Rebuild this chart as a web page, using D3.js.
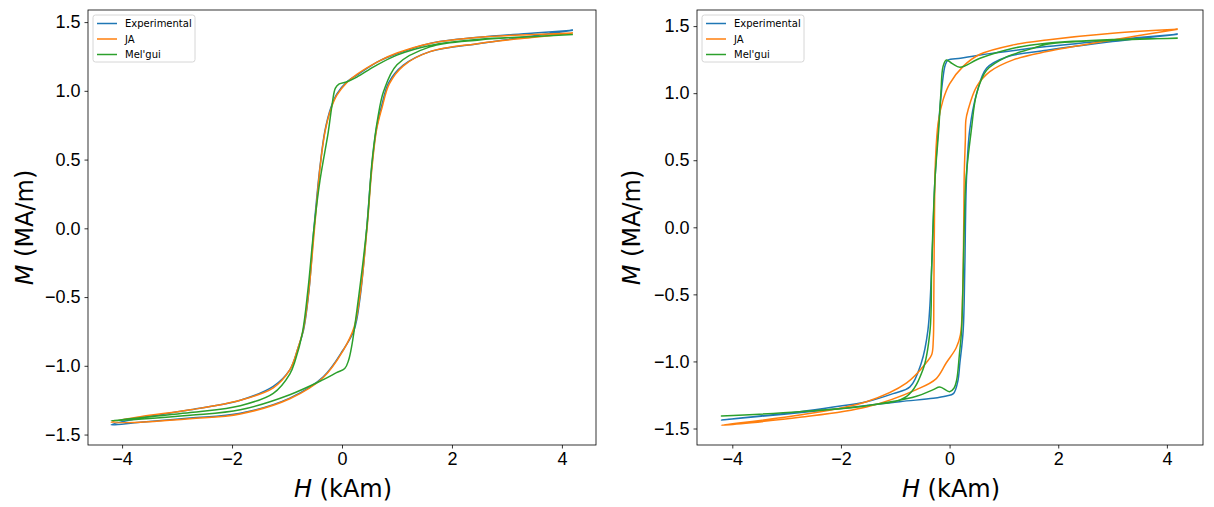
<!DOCTYPE html>
<html>
<head>
<meta charset="utf-8">
<script src="https://cdn.jsdelivr.net/npm/d3@7"></script>
<style>
  body { margin: 0; background: #fff; }
  svg { font-family: "DejaVu Sans", sans-serif; }
  .tick text { font-size: 18px; fill: #000; }
  .domain { display: none; }
</style>
</head>
<body>
<svg width="1214" height="507"></svg>
<script>
// series names + colours
const seriesNames = ["Experimental", "JA", "Mel'gui"];
const seriesColors = ["#1f77b4", "#ff7f0e", "#2ca02c"];

const xTicks = [-4, -2, 0, 2, 4];
const yTicks = [-1.5, -1.0, -0.5, 0.0, 0.5, 1.0, 1.5];

// left panel: each loop = descending branch (4.2 -> -4.2) then ascending branch
const leftExpH = [4.2, 3.5, 2.5, 1.6, 1.0, 0.69, 0.27, 0.09, -0.09, -0.2, -0.31, -0.4, -0.51, -0.6, -0.7, -0.8, -0.95, -1.25, -1.85, -2.76, -3.67, -4.2,
                  -3.67, -2.76, -1.85, -0.95, -0.34, 0.02, 0.22, 0.33, 0.45, 0.53, 0.62, 0.72, 0.85, 1.11, 1.6, 2.5, 3.5, 4.2];
const leftExpM = [1.44, 1.42, 1.39, 1.345, 1.27, 1.22, 1.115, 1.066, 0.98, 0.88, 0.71, 0.45, 0.0, -0.45, -0.74, -0.87, -1.03, -1.15, -1.25, -1.32, -1.38, -1.43,
                  -1.41, -1.38, -1.345, -1.235, -1.08, -0.885, -0.74, -0.5, 0.0, 0.4, 0.71, 0.89, 1.06, 1.185, 1.285, 1.345, 1.40, 1.44];

const leftJaH = [4.2, 3.5, 2.5, 1.6, 1.0, 0.69, 0.27, 0.09, -0.09, -0.2, -0.31, -0.4, -0.5, -0.6, -0.7, -0.8, -0.95, -1.25, -1.85, -2.76, -3.67, -4.2,
                 -3.67, -2.76, -1.85, -0.95, -0.34, 0.02, 0.22, 0.34, 0.46, 0.54, 0.63, 0.73, 0.86, 1.11, 1.6, 2.5, 3.5, 4.2];
const leftJaM = [1.42, 1.41, 1.39, 1.345, 1.275, 1.22, 1.12, 1.06, 0.97, 0.87, 0.7, 0.44, 0.0, -0.44, -0.73, -0.87, -1.03, -1.16, -1.25, -1.32, -1.37, -1.41,
                 -1.41, -1.385, -1.35, -1.24, -1.085, -0.89, -0.72, -0.45, 0.02, 0.42, 0.72, 0.88, 1.05, 1.18, 1.285, 1.345, 1.39, 1.42];

const leftMelH = [4.2, 3.5, 2.5, 1.6, 1.0, 0.6, 0.27, 0.09, -0.05, -0.12, -0.18, -0.25, -0.4, -0.51, -0.62, -0.72, -0.85, -0.95, -1.25, -1.85, -2.76, -4.2,
                  -2.76, -1.85, -0.95, -0.34, -0.1, 0.05, 0.12, 0.18, 0.27, 0.45, 0.55, 0.65, 0.76, 1.0, 1.6, 2.5, 3.5, 4.2];
const leftMelM = [1.41, 1.395, 1.375, 1.33, 1.26, 1.18, 1.10, 1.066, 1.05, 1.02, 0.9, 0.7, 0.35, 0.0, -0.45, -0.76, -0.96, -1.06, -1.2, -1.29, -1.34, -1.40,
                  -1.36, -1.32, -1.21, -1.10, -1.05, -1.02, -0.96, -0.85, -0.6, 0.0, 0.5, 0.8, 1.0, 1.19, 1.32, 1.37, 1.395, 1.41];

// right panel
const rightExpH = [4.2, 3.0, 1.79, 0.56, 0.2, -0.03, -0.08, -0.12, -0.21, -0.27, -0.33, -0.4, -0.52, -0.73, -1.04, -1.53, -2.14, -2.76, -4.2,
                   -2.14, -0.92, -0.3, -0.06, 0.07, 0.15, 0.19, 0.25, 0.28, 0.31, 0.37, 0.5, 0.68, 1.05, 1.79, 3.0, 4.2];
const rightExpM = [1.44, 1.397, 1.347, 1.285, 1.26, 1.247, 1.21, 1.12, 0.73, 0.35, -0.3, -0.77, -1.01, -1.19, -1.24, -1.30, -1.34, -1.375, -1.437,
                   -1.357, -1.30, -1.275, -1.258, -1.24, -1.15, -1.01, -0.77, -0.3, 0.35, 0.725, 1.0, 1.186, 1.27, 1.32, 1.385, 1.44];

const rightJaH = [4.2, 3.0, 1.79, 1.17, 0.56, 0.25, 0.0, -0.12, -0.21, -0.26, -0.28, -0.29, -0.3, -0.33, -0.43, -0.79, -1.53, -2.76, -4.2,
                  -2.76, -1.53, -0.61, -0.25, -0.06, 0.12, 0.2, 0.24, 0.26, 0.27, 0.29, 0.3, 0.34, 0.5, 0.74, 1.17, 1.79, 3.0, 4.2];
const rightJaM = [1.476, 1.447, 1.397, 1.36, 1.29, 1.2, 1.07, 0.95, 0.78, 0.5, 0.0, -0.5, -0.84, -0.95, -1.01, -1.16, -1.30, -1.40, -1.476,
                  -1.417, -1.34, -1.21, -1.13, -1.01, -0.9, -0.8, -0.5, 0.0, 0.4, 0.65, 0.8, 0.875, 1.05, 1.16, 1.248, 1.31, 1.397, 1.476];

const rightMelH = [4.2, 3.0, 1.79, 1.17, 0.56, 0.19, 0.05, -0.06, -0.12, -0.16, -0.2, -0.27, -0.33, -0.36, -0.49, -0.79, -1.53, -2.76, -4.2,
                   -2.76, -1.53, -0.61, -0.3, -0.18, 0.0, 0.08, 0.13, 0.18, 0.22, 0.27, 0.3, 0.4, 0.5, 0.68, 1.05, 1.5, 1.79, 3.0, 4.2];
const rightMelM = [1.41, 1.40, 1.372, 1.335, 1.26, 1.193, 1.22, 1.247, 1.2, 1.0, 0.73, 0.35, -0.3, -0.77, -1.06, -1.26, -1.33, -1.375, -1.407,
                   -1.375, -1.33, -1.26, -1.21, -1.19, -1.226, -1.2, -1.14, -0.95, -0.77, 0.0, 0.35, 0.725, 1.0, 1.17, 1.27, 1.33, 1.365, 1.395, 1.41];

let svg = d3.select("svg");

function toPoints(hs, ms) {
    return hs.map((h, i) => [h, ms[i]]);
}

function drawPanel(p) {
    let x = d3.scaleLinear().domain(p.xDomain).range([p.left, p.right]);
    let y = d3.scaleLinear().domain(p.yDomain).range([p.bottom, p.top]);

    let g = svg.append("g");

    let line = d3.line()
        .x(d => x(d[0]))
        .y(d => y(d[1]))
        .curve(d3.curveCatmullRom.alpha(0.5));

    p.series.forEach((s, i) => {
        g.append("path")
            .datum(toPoints(s[0], s[1]))
            .attr("fill", "none")
            .attr("stroke", seriesColors[i])
            .attr("stroke-width", 1.5)
            .attr("stroke-linejoin", "round")
            .attr("d", line);
    });

    // axes
    g.append("g")
        .attr("transform", `translate(0,${p.bottom})`)
        .call(d3.axisBottom(x).tickValues(xTicks).tickFormat(d3.format("d")).tickSize(3.5).tickPadding(4))
        .call(a => a.selectAll(".tick line").attr("stroke", "#000").attr("stroke-width", 0.8));

    g.append("g")
        .attr("transform", `translate(${p.left},0)`)
        .call(d3.axisLeft(y).tickValues(yTicks).tickFormat(d3.format(".1f")).tickSize(3.5).tickPadding(4))
        .call(a => a.selectAll(".tick line").attr("stroke", "#000").attr("stroke-width", 0.8));

    g.append("rect")
        .attr("x", p.left).attr("y", p.top)
        .attr("width", p.right - p.left).attr("height", p.bottom - p.top)
        .attr("fill", "none").attr("stroke", "#000").attr("stroke-width", 0.8);

    // axis labels
    let xl = g.append("text")
        .attr("x", (p.left + p.right) / 2 + 1)
        .attr("y", 497)
        .attr("text-anchor", "middle")
        .style("font-size", "24px");
    xl.append("tspan").style("font-style", "italic").text("H");
    xl.append("tspan").text(" (kAm)");

    let yl = g.append("text")
        .attr("transform", `translate(${p.yLabelX},${(p.top + p.bottom) / 2}) rotate(-90)`)
        .attr("text-anchor", "middle")
        .style("font-size", "24px");
    yl.append("tspan").style("font-style", "italic").text("M");
    yl.append("tspan").text(" (MA/m)");

    // legend
    let lx = p.left + 5, ly = p.top + 5;
    let leg = g.append("g");
    leg.append("rect")
        .attr("x", lx).attr("y", ly)
        .attr("width", 102).attr("height", 47)
        .attr("rx", 2.5)
        .attr("fill", "#fff").attr("fill-opacity", 0.8)
        .attr("stroke", "#ccc").attr("stroke-width", 0.8);

    seriesNames.forEach((name, i) => {
        let yy = ly + 8.5 + i * 15.5;
        leg.append("line")
            .attr("x1", lx + 4).attr("x2", lx + 24)
            .attr("y1", yy).attr("y2", yy)
            .attr("stroke", seriesColors[i]).attr("stroke-width", 1.5);
        leg.append("text")
            .attr("x", lx + 32).attr("y", yy + 3.5)
            .style("font-size", "10px")
            .text(name);
    });
}

drawPanel({
    left: 88, right: 596, top: 10, bottom: 445,
    xDomain: [-4.62, 4.62], yDomain: [-1.576, 1.588],
    yLabelX: 33,
    series: [[leftExpH, leftExpM], [leftJaH, leftJaM], [leftMelH, leftMelM]]
});

drawPanel({
    left: 697, right: 1203, top: 10, bottom: 445,
    xDomain: [-4.65, 4.665], yDomain: [-1.623, 1.62],
    yLabelX: 640,
    series: [[rightExpH, rightExpM], [rightJaH, rightJaM], [rightMelH, rightMelM]]
});
</script>
</body>
</html>
